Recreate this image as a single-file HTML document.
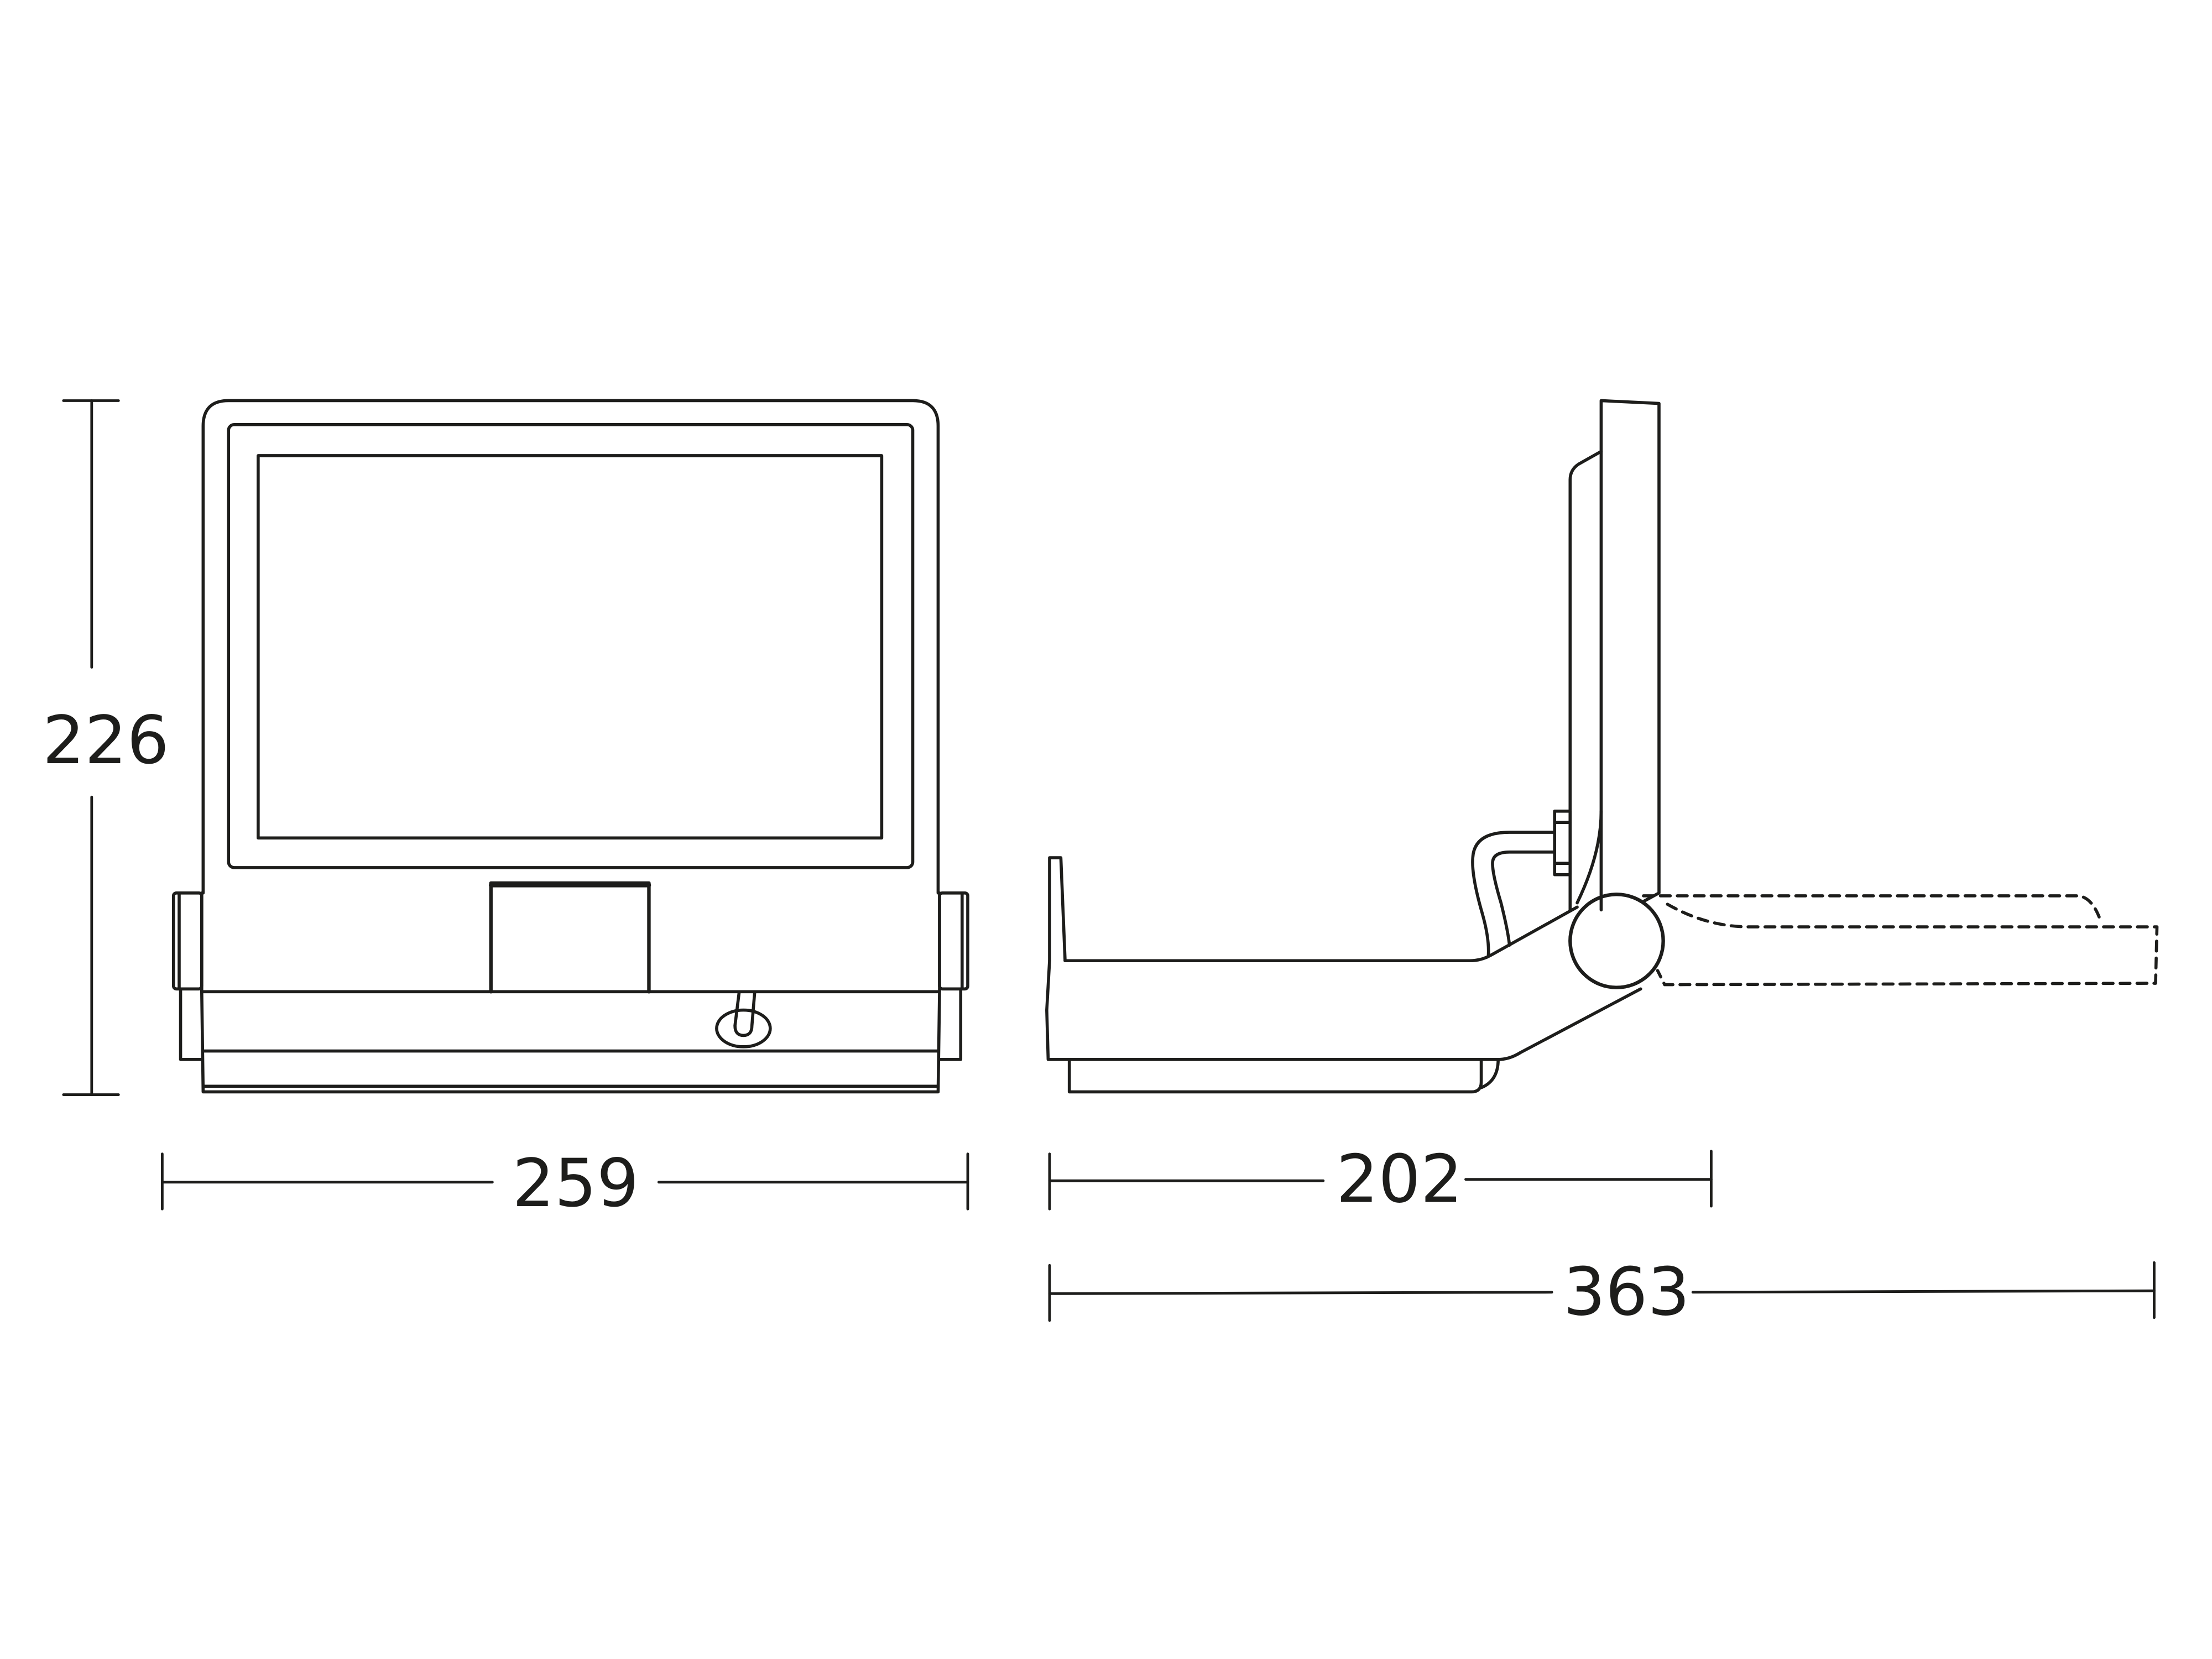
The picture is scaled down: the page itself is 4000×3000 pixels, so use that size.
<!DOCTYPE html>
<html><head><meta charset="utf-8"><style>
html,body{margin:0;padding:0;background:#fff;}
svg{display:block;}
text{font-family:"DejaVu Sans","Liberation Sans",sans-serif;font-size:47px;fill:#1d1d1b;text-anchor:middle;}
</style></head><body>
<svg width="4000" height="3000" viewBox="0 0 1568 1176" xmlns="http://www.w3.org/2000/svg">
<g fill="none" stroke="#1d1d1b" stroke-width="2.2" stroke-linejoin="round" stroke-linecap="round">
<!-- Front view -->
<path d="M144 633 L144 302 Q144 284 162 284 L647 284 Q665 284 665 302 L665 633"/>
<rect x="162" y="301" width="485" height="314" rx="4"/>
<rect x="183" y="323" width="442" height="271"/>
<path d="M143 633 L143 703 L144 774 L665 774 L666 703 L666 633"/>
<line x1="143" y1="703" x2="666" y2="703"/>
<line x1="144" y1="745" x2="665" y2="745"/>
<line x1="144" y1="770" x2="665" y2="770"/>
<path d="M348 703 L348 626 L460 626 L460 703" stroke-width="2.5"/>
<line x1="348" y1="627.5" x2="460" y2="627.5" stroke-width="3"/>
<rect x="123" y="633" width="20" height="68" rx="2"/>
<line x1="127" y1="634" x2="127" y2="700"/>
<path d="M128 701 L128 751 L143 751"/>
<rect x="666" y="633" width="20" height="68" rx="2"/>
<line x1="682" y1="634" x2="682" y2="700"/>
<path d="M681 701 L681 751 L666 751"/>
<ellipse cx="527" cy="729" rx="19" ry="13"/>
<path d="M524 703 L521 727 Q521 734 527 734 Q533 734 533 727 L535 703"/>
<!-- Side view -->
<path d="M744 681 L744 608 L752 608 L755 681"/>
<path d="M744 681 L742 716 L743 751 L1062 751 Q1070 751 1078 746 L1163 701"/>
<path d="M755 681 L1042 681 Q1050 681 1057 677 L1118 643"/>
<path d="M758 751 L758 774 L1043 774 Q1050 774 1050 767 L1050 751"/>
<path d="M1050 771 Q1062 766 1062 751"/>
<circle cx="1146" cy="667" r="33" stroke-width="2.5"/>
<path d="M1135 645 L1135 284 L1176 286 L1176 633 L1165 639"/>
<path d="M1113 645 L1113 340 Q1113 333 1119 329 L1135 320"/>
<path d="M1135 575 Q1135 605 1118 640"/>
<rect x="1102" y="575" width="11" height="45"/>
<line x1="1102" y1="583" x2="1113" y2="583"/>
<line x1="1102" y1="612" x2="1113" y2="612"/>
<path d="M1102 590 L1070 590 Q1045 590 1044 608 Q1043 620 1050 645 Q1056 665 1055 678"/>
<path d="M1102 604 L1070 604 Q1058 604 1058 612 Q1058 620 1064 640 Q1069 660 1070 670"/>
<g stroke-dasharray="7 5">
<path d="M1165 635 L1472 635 Q1482 635 1488 650"/>
<path d="M1182 641 Q1210 657 1240 657 L1529 657 L1528 697 L1180 698 L1175 688"/>
</g>
<!-- Dimensions -->
<g stroke-width="1.9">
<line x1="65" y1="284" x2="65" y2="473"/>
<line x1="65" y1="565" x2="65" y2="776"/>
<line x1="45" y1="284" x2="84" y2="284"/>
<line x1="45" y1="776" x2="84" y2="776"/>
<line x1="115" y1="838" x2="349" y2="838"/>
<line x1="467" y1="838" x2="686" y2="838"/>
<line x1="115" y1="818" x2="115" y2="857"/>
<line x1="686" y1="818" x2="686" y2="857"/>
<line x1="744" y1="837" x2="938" y2="837"/>
<line x1="1039" y1="836" x2="1213" y2="836"/>
<line x1="744" y1="818" x2="744" y2="857"/>
<line x1="1213" y1="816" x2="1213" y2="855"/>
<line x1="744" y1="917" x2="1100" y2="916"/>
<line x1="1200" y1="916" x2="1527" y2="915"/>
<line x1="744" y1="897" x2="744" y2="936"/>
<line x1="1527" y1="895" x2="1527" y2="934"/>
</g>
</g>
<text x="75" y="541">226</text>
<text x="408" y="855">259</text>
<text x="992" y="852">202</text>
<text x="1153" y="932">363</text>
</svg>
</body></html>
